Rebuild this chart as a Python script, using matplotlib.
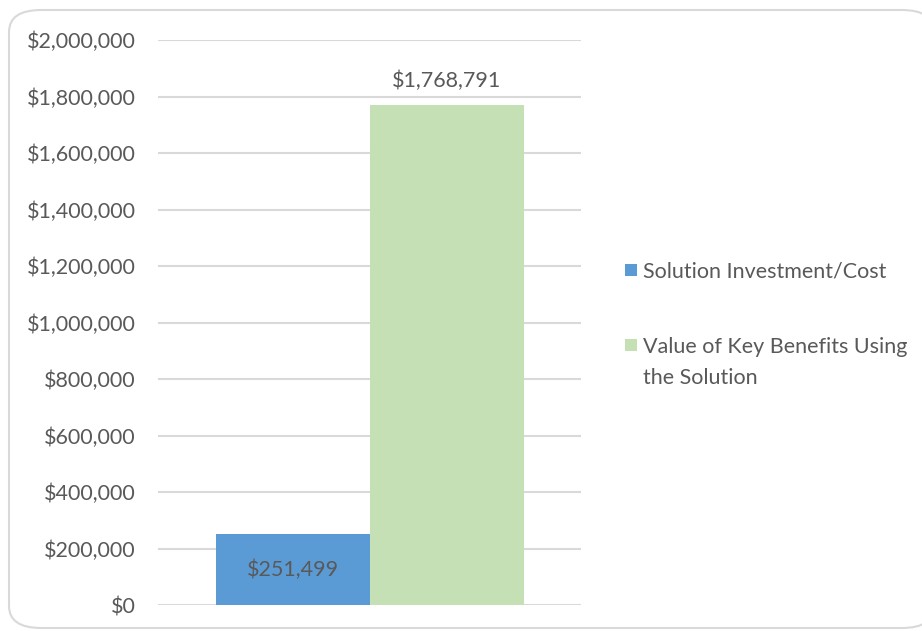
import textwrap
import matplotlib.pyplot as plt
from matplotlib.patches import FancyBboxPatch, Rectangle
from matplotlib.ticker import FuncFormatter

series_names = ["Solution Investment/Cost", "Value of Key Benefits Using the Solution"]
series_values = [251499, 1768791]
series_colors = ["#5B9BD5", "#C5E0B4"]
y_ticks = [0, 200000, 400000, 600000, 800000, 1000000, 1200000, 1400000, 1600000, 1800000, 2000000]

TEXT_COLOR = "#595959"
GRID_COLOR = "#D9D9D9"
FONT = "Lato"
FS = 15.5

plt.rcParams['font.family'] = [FONT, 'DejaVu Sans']

fig = plt.figure(figsize=(9.22, 6.31), dpi=100)
W, H = 922, 631

# rounded chart-area border
border = FancyBboxPatch((9 / W, 3 / H), 925 / W, 618 / H,
                        boxstyle="round,pad=0,rounding_size=0.035",
                        transform=fig.transFigure, facecolor="white",
                        edgecolor=GRID_COLOR, linewidth=1.5, zorder=-10)
fig.patches.append(border)

ax = fig.add_axes([158 / W, 1 - 605 / H, (581 - 158) / W, (605 - 40) / H])
ax.set_facecolor("none")
ax.set_zorder(1)

bar_w = 154 / 423
offsets = [-bar_w / 2, bar_w / 2]
for off, val, col in zip(offsets, series_values, series_colors):
    ax.bar(off, val, width=bar_w, color=col, zorder=2)

# data labels
ax.text(offsets[0], series_values[0] / 2, f"${series_values[0]:,}", ha="center", va="center",
        fontsize=FS, color=TEXT_COLOR, zorder=3)
ax.annotate(f"${series_values[1]:,}", (offsets[1], series_values[1]), xytext=(0, 10),
            textcoords="offset points", ha="center", va="bottom",
            fontsize=FS, color=TEXT_COLOR, zorder=3)

ax.set_xlim(-0.5, 0.5)
ax.set_ylim(0, 2000000)
ax.set_yticks(y_ticks)
ax.yaxis.set_major_formatter(FuncFormatter(lambda v, p: f"${int(v):,}"))
ax.tick_params(axis="y", length=0, pad=16, labelsize=FS, labelcolor=TEXT_COLOR)
ax.set_xticks([])
ax.grid(axis="y", color=GRID_COLOR, linewidth=1.5, zorder=0)
ax.set_axisbelow(True)
for s in ax.spines.values():
    s.set_visible(False)

# legend drawn by hand so the marker lines up with the first text line
legend_y = [270, 345]
for name, col, ly in zip(series_names, series_colors, legend_y):
    fig.patches.append(Rectangle((625 / W, 1 - (ly + 6) / H), 12 / W, 12 / H,
                                 transform=fig.transFigure, facecolor=col,
                                 edgecolor="none"))
    fig.text(643 / W, 1 - (ly - 8) / H, textwrap.fill(name, 27), ha="left", va="top",
             fontsize=FS, color=TEXT_COLOR, linespacing=1.7)

fig.savefig("out.png", dpi=100)
